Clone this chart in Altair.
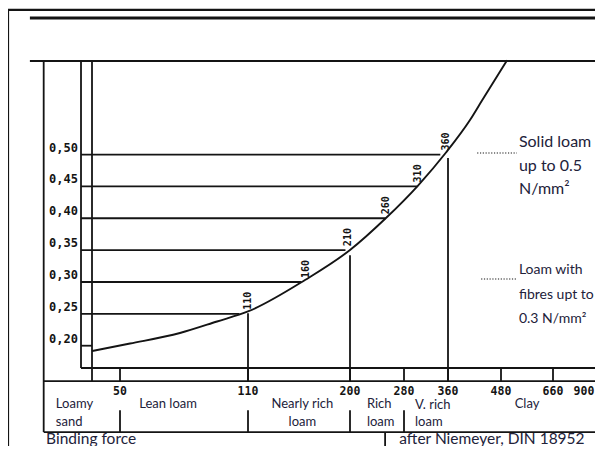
import altair as alt
import pandas as pd

INK = "#141414"
PROSE = "#22223a"
NUM_FONT = "DejaVu Sans Mono"
TXT_FONT = "Lato"

# ---- scales (plasticity on x, binding force N/mm2 on y) ----
X_DOMAIN = [-110, -20, 0, 50, 110, 200, 280, 360, 480, 660, 900, 960]
X_RANGE = [0, 73, 84, 112, 240, 342, 396, 440, 493, 545, 576, 595]
Y_DOMAIN = [0.0426, 0.73]

# ---- chart values ----
levels = [0.20, 0.25, 0.30, 0.35, 0.40, 0.45, 0.50]
level_labels = ["0,20", "0,25", "0,30", "0,35", "0,40", "0,45", "0,50"]
level_ends = [0, 106, 157, 196, 253, 304, 346]

curve_p = [0, 54.7, 78.1, 95.5, 110, 160.3, 200, 253.3, 305.5, 356.4, 409.8, 437, 501]
curve_v = [0.1917, 0.2034, 0.2199, 0.2380, 0.2537, 0.3031, 0.3502, 0.4004, 0.4514, 0.5032, 0.5542, 0.5848, 0.648]

curve_labels = ["110", "160", "210", "260", "310", "360"]
curve_label_p = [110, 161, 198, 253, 305, 356]
curve_label_v = [0.25, 0.30, 0.35, 0.40, 0.45, 0.50]

drop_p = [110, 200, 360]
drop_top = [0.251, 0.342, 0.4945]

scale_ticks = [50, 110, 200, 280, 360, 480, 660]
scale_labels = ["50", "110", "200", "280", "360", "480", "660", "900"]
scale_label_p = [50, 110, 200, 280, 360, 480, 660, 900]
lower_ticks = [50, 110, 200, 280]

cat_left_text = ["Loamy", "sand", "Lean loam", "Rich", "loam", "V. rich", "loam"]
cat_left_p = [-51, -51, 59, 225, 225, 300, 300]
cat_left_v = [0.1085, 0.0802, 0.1085, 0.1085, 0.0802, 0.1075, 0.0802]
cat_mid_text = ["Nearly rich", "loam", "Clay"]
cat_mid_p = [158, 158, 570]
cat_mid_v = [0.1085, 0.0802, 0.1085]

note1_text = ["Solid loam", "up to 0.5", "N/mm\u00b2"]
note1_v = [0.5196, 0.482, 0.4459]
note2_text = ["Loam with", "fibres upt to", "0.3 N/mm\u00b2"]
note2_v = [0.3187, 0.2795, 0.2418]
note_p = 542
leader_x0 = [426, 435]
leader_x1 = [535, 535]
leader_v = [0.5024, 0.3046]

caption_text = ["Binding force", "after Niemeyer, DIN 18952"]
caption_p = [-63, 273]
caption_v = [0.053, 0.053]

# ---- frame / table structure (data units) ----
Y_FRAME, Y_HEAD1, Y_HEAD2 = 0.727, 0.7143, 0.6468
Y_BOX, Y_AXIS, Y_TICKLOW, Y_BOTTOM = 0.165, 0.1444, 0.0989, 0.0644
P_LEFT, P_HEAD, P_OUTER, P_INNER, P_ZERO, P_END, P_SEP = -110, -83, -66, -20, 0, 960, 252

xs = alt.Scale(domain=X_DOMAIN, range=X_RANGE, zero=False, nice=False)
ys = alt.Scale(domain=Y_DOMAIN, zero=False, nice=False)


def segs(rows):
    return pd.DataFrame(rows, columns=["x0", "x1", "y0", "y1"])


def rule_layer(df, width, dash=None):
    kw = dict(color=INK, strokeWidth=width)
    if dash:
        kw["strokeDash"] = dash
    return alt.Chart(df).mark_rule(**kw).encode(
        x=alt.X("x0:Q", scale=xs, axis=None),
        x2="x1:Q",
        y=alt.Y("y0:Q", scale=ys, axis=None),
        y2="y1:Q",
    )


frame = segs([(P_LEFT, P_END, Y_FRAME, Y_FRAME), (P_LEFT, P_LEFT, Y_FRAME, Y_DOMAIN[0])])
head_thick = segs([(P_HEAD, P_END, Y_HEAD1, Y_HEAD1)])
structure = segs(
    [(P_HEAD, P_END, Y_HEAD2, Y_HEAD2),
     (P_OUTER, P_OUTER, Y_HEAD2, Y_BOTTOM),
     (P_INNER, P_INNER, Y_HEAD2, Y_BOX),
     (P_ZERO, P_ZERO, Y_HEAD2, Y_AXIS),
     (P_INNER, P_END, Y_BOX, Y_BOX),
     (P_OUTER, P_END, Y_AXIS, Y_AXIS),
     (P_OUTER, P_END, Y_BOTTOM, Y_BOTTOM),
     (P_SEP, P_SEP, Y_BOTTOM, Y_DOMAIN[0])]
    + [(p, p, Y_BOX, Y_AXIS) for p in scale_ticks]
    + [(p, p, Y_TICKLOW, Y_BOTTOM) for p in lower_ticks]
    + [(P_INNER, e, v, v) for v, e in zip(levels, level_ends)]
    + [(p, p, t, Y_AXIS) for p, t in zip(drop_p, drop_top)]
)
leaders = segs([(a, b, v, v) for a, b, v in zip(leader_x0, leader_x1, leader_v)])

curve_df = pd.DataFrame({"p": curve_p, "v": curve_v})
curve = alt.Chart(curve_df).mark_line(color=INK, strokeWidth=1.9, interpolate="monotone").encode(
    x=alt.X("p:Q", scale=xs, axis=None), y=alt.Y("v:Q", scale=ys, axis=None), order="p:Q"
)


def text_layer(texts, ps, vs, **mk):
    df = pd.DataFrame({"t": texts, "p": ps, "v": vs})
    return alt.Chart(df).mark_text(**mk).encode(
        x=alt.X("p:Q", scale=xs, axis=None),
        y=alt.Y("v:Q", scale=ys, axis=None),
        text="t:N",
    )


ylabels = text_layer(level_labels, [P_INNER - 5] * len(levels), levels,
                     align="right", baseline="alphabetic", dy=-3, dx=1,
                     font=NUM_FONT, fontSize=12, fontWeight="bold", color=INK)
clabels = text_layer(curve_labels, curve_label_p, curve_label_v,
                     align="left", baseline="middle", angle=270, dx=4,
                     font=NUM_FONT, fontSize=10, fontWeight="bold", color=INK)
slabels = text_layer(scale_labels, scale_label_p, [0.128] * len(scale_labels),
                     align="center", baseline="middle",
                     font=NUM_FONT, fontSize=11.5, fontWeight="bold", color=INK)
cat_left = text_layer(cat_left_text, cat_left_p, cat_left_v, align="left", baseline="middle",
                      font=TXT_FONT, fontSize=13, color=PROSE)
cat_mid = text_layer(cat_mid_text, cat_mid_p, cat_mid_v, align="center", baseline="middle",
                     font=TXT_FONT, fontSize=13, color=PROSE)
notes1 = text_layer(note1_text, [note_p] * 3, note1_v, align="left", baseline="middle",
                    font=TXT_FONT, fontSize=16, color=PROSE)
notes2 = text_layer(note2_text, [note_p] * 3, note2_v, align="left", baseline="middle",
                    font=TXT_FONT, fontSize=14, color=PROSE)
captions = text_layer(caption_text, caption_p, caption_v, align="left", baseline="middle",
                      font=TXT_FONT, fontSize=15.5, color=PROSE)

chart = alt.layer(
    rule_layer(frame, 2.2),
    rule_layer(head_thick, 3.2),
    rule_layer(structure, 1.8),
    rule_layer(leaders, 1.1, dash=[1.2, 1.6]),
    curve,
    ylabels, clabels, slabels, cat_left, cat_mid, notes1, notes2, captions,
).properties(
    width=587, height=438, padding=0, autosize=alt.AutoSizeParams(type="none"), background="white"
).configure_view(stroke=None)

chart.save("out.html", embed_options={"renderer": "svg", "actions": False})
